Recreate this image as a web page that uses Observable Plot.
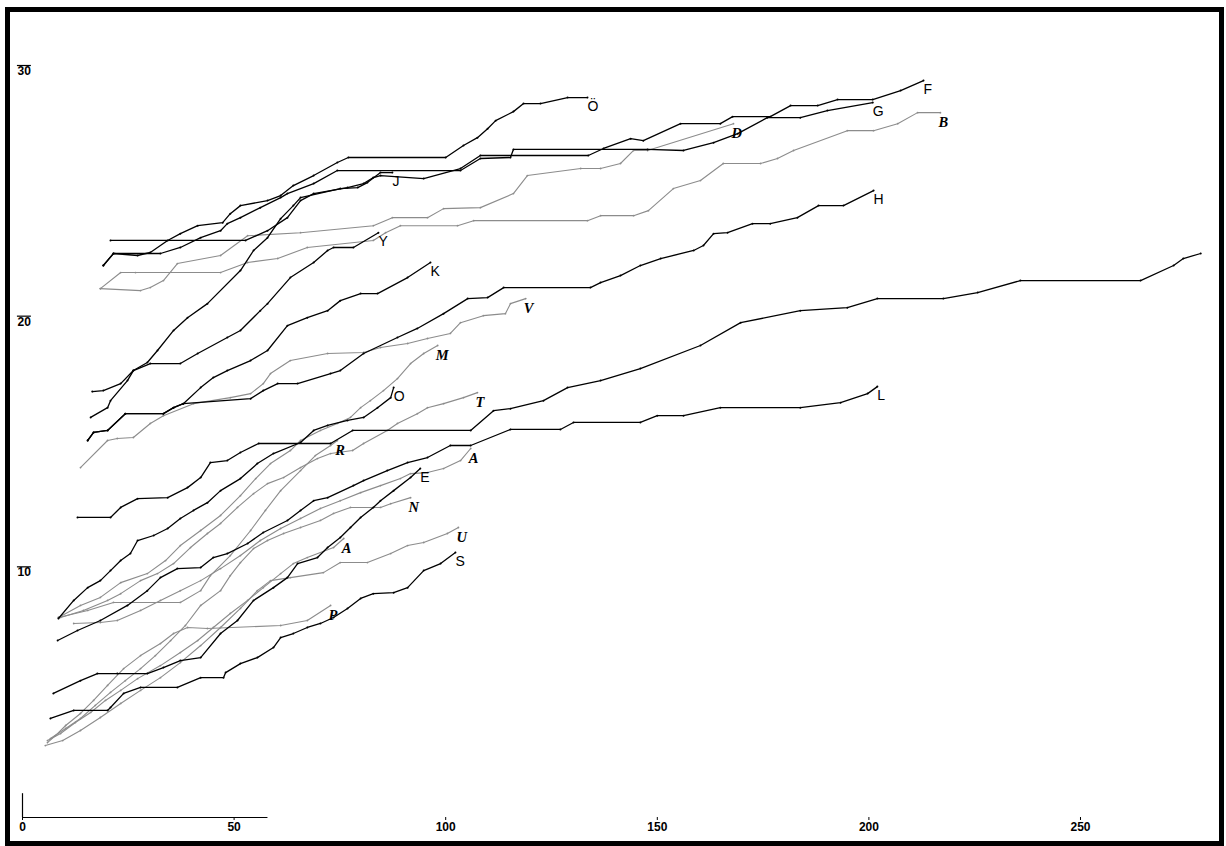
<!DOCTYPE html>
<html><head><meta charset="utf-8">
<script src="https://cdn.jsdelivr.net/npm/d3@7"></script>
<script src="https://cdn.jsdelivr.net/npm/@observablehq/plot@0.6"></script>
<style>
html,body{margin:0;padding:0;background:#fff;}
#wrap{position:relative;width:1226px;height:846px;overflow:hidden;background:#fff;}
#border{position:absolute;left:5px;top:7px;width:1219px;height:839px;box-sizing:border-box;border:5px solid #000;pointer-events:none;}
</style></head><body><div id="wrap"><div id="chart"></div><div id="border"></div></div>
<script>
// Tick values
const xTicks = [0, 50, 100, 150, 200, 250];
const yTicks = [10, 20, 30];
const xAxisStub = 58;          // length of the drawn x-axis segment (data units)
const yAxisStub = 0.95;        // length of the drawn y-axis segment (data units)
const yTickStub = [-1.2, 2.1]; // extent of the little y tick bar above each label (data units)

// Black series
const OumlX = [19.1,21.5,27.2,30.2,34.3,37.3,41.4,47.3,49.1,51.5,57.9,61.0,64.0,68.8,74.4,77.0,100.0,104.2,107.5,109.9,111.8,116.0,118.4,122.4,128.8,133.5];
const OumlY = [22.02,22.50,22.42,22.54,23.02,23.29,23.61,23.73,24.09,24.41,24.61,24.81,25.21,25.61,26.13,26.33,26.33,26.81,27.12,27.48,27.80,28.16,28.48,28.48,28.72,28.72];
const GX = [19.1,21.5,32.6,37.3,42.1,46.8,48.4,51.5,56.2,61.0,62.6,68.8,74.4,103.5,108.2,115.3,116.0,147.7,156.2,163.3,169.0,176.0,183.8,190.2,200.9];
const GY = [22.02,22.50,22.50,22.74,23.13,23.41,23.69,23.93,24.33,24.73,24.89,25.29,25.81,25.81,26.29,26.33,26.65,26.65,26.61,26.92,27.28,27.92,27.92,28.20,28.52];
const FX = [20.8,52.7,57.9,62.6,65.7,68.8,76.8,80.6,82.9,84.6,94.8,103.5,108.2,133.7,137.3,143.7,146.7,155.5,164.9,167.8,176.7,181.5,187.9,192.6,200.9,207.5,212.9];
const FY = [23.02,23.02,23.41,23.93,24.61,24.89,25.13,25.29,25.53,25.61,25.49,25.89,26.41,26.41,26.69,27.08,27.00,27.68,27.68,27.96,27.96,28.40,28.40,28.64,28.64,29.00,29.40];
const JX = [16.5,19.1,23.2,26.2,29.5,31.9,35.7,39.0,43.7,51.5,54.6,57.9,61.0,64.0,65.7,75.1,79.2,81.5,84.6,87.4];
const JY = [16.99,17.03,17.31,17.83,18.15,18.63,19.43,19.94,20.50,21.82,22.62,23.13,23.89,24.41,24.73,25.09,25.13,25.33,25.73,25.73];
const YX = [16.1,20.1,20.8,24.8,26.2,30.2,37.3,41.4,48.4,51.5,56.2,57.9,63.3,68.8,72.1,73.5,78.2,84.1];
const YY = [15.96,16.35,16.63,17.43,17.83,18.11,18.11,18.51,19.15,19.43,20.22,20.50,21.54,22.14,22.62,22.74,22.74,23.33];
const KX = [15.4,16.8,20.1,24.3,33.3,35.7,38.0,42.1,45.1,48.4,53.9,57.9,62.6,67.3,72.1,75.1,79.9,83.9,91.0,96.4];
const KY = [15.04,15.36,15.44,16.11,16.11,16.35,16.51,17.15,17.55,17.83,18.23,18.63,19.62,19.94,20.22,20.62,20.90,20.90,21.54,22.14];
const HX = [15.4,16.8,20.1,24.3,33.3,35.7,38.0,53.9,56.9,60.3,65.0,72.8,75.1,80.6,88.6,93.3,99.5,105.2,109.9,113.7,134.2,136.6,141.3,146.0,150.8,158.6,160.9,163.3,166.6,172.5,176.7,183.1,188.1,194.0,201.1];
const HY = [15.04,15.36,15.44,16.11,16.11,16.35,16.51,16.71,17.03,17.31,17.31,17.71,17.83,18.51,19.15,19.51,20.10,20.70,20.74,21.14,21.14,21.34,21.62,22.02,22.30,22.62,22.82,23.29,23.33,23.69,23.69,23.93,24.41,24.41,25.01];
const LongX = [13.0,20.8,23.2,27.2,34.3,39.0,42.1,44.4,48.4,51.5,55.8,72.8,78.0,105.9,111.3,115.3,123.1,128.8,136.6,146.0,160.2,169.7,183.8,194.9,202.0,217.6,225.7,235.8,264.2,272.0,274.3,278.4];
const LongY = [11.97,11.97,12.37,12.72,12.76,13.16,13.56,14.16,14.24,14.56,14.92,14.92,15.44,15.44,16.23,16.31,16.63,17.15,17.43,17.91,18.83,19.74,20.22,20.34,20.70,20.70,20.94,21.42,21.42,22.02,22.30,22.50];
const LX = [8.3,13.0,18.4,24.8,29.5,32.6,36.6,42.1,45.1,48.4,53.2,56.9,62.6,65.7,68.8,72.1,78.2,80.6,86.2,91.0,95.7,101.1,105.9,115.3,127.1,130.2,146.0,150.0,156.2,164.9,183.8,193.3,199.7,202.0];
const LY = [7.06,7.46,7.86,8.46,9.05,9.57,9.93,9.97,10.37,10.53,10.93,11.37,11.85,12.25,12.64,12.76,13.24,13.44,13.84,14.16,14.36,14.84,14.84,15.48,15.48,15.76,15.76,16.03,16.03,16.35,16.35,16.55,16.91,17.19];
const OX = [8.5,12.1,15.4,18.4,20.8,23.2,25.5,27.2,31.0,34.3,37.3,40.4,43.7,46.8,51.5,55.5,59.3,65.7,68.8,72.1,76.8,80.6,83.9,87.0,87.7];
const OY = [7.94,8.66,9.17,9.45,9.85,10.25,10.53,11.05,11.25,11.53,11.93,12.25,12.56,13.04,13.52,14.12,14.52,14.96,15.44,15.64,15.84,15.96,16.35,16.75,17.15];
const EX = [7.3,13.7,17.7,22.4,29.5,33.3,37.3,42.1,46.8,50.8,54.6,59.3,62.6,65.0,69.7,72.1,75.1,77.5,79.9,82.9,84.6,87.7,91.7,94.0];
const EY = [4.95,5.46,5.74,5.74,5.74,5.98,6.26,6.38,7.34,7.86,8.66,9.17,9.57,10.13,10.37,10.77,11.17,11.57,11.97,12.37,12.64,13.04,13.56,13.92];
const SX = [6.6,12.1,20.1,20.8,23.9,27.9,36.6,42.1,47.5,48.0,51.5,55.5,59.3,61.0,64.0,67.3,70.4,73.5,76.8,79.9,82.9,87.7,91.0,94.8,98.8,102.3];
const SY = [3.95,4.27,4.27,4.39,4.95,5.19,5.19,5.58,5.58,5.78,6.14,6.38,6.78,7.18,7.34,7.58,7.74,7.98,8.34,8.74,8.93,8.97,9.17,9.85,10.13,10.57];

// Gray series
const DX = [18.4,27.9,30.2,33.3,36.6,46.8,53.2,65.7,82.9,87.4,95.7,99.5,108.2,116.0,119.3,131.9,136.6,141.3,144.4,147.7,168.0];
const DY = [21.10,21.02,21.14,21.42,22.10,22.42,23.21,23.33,23.61,23.93,23.93,24.29,24.33,24.89,25.61,25.89,25.89,26.09,26.61,26.61,27.68];
const BX = [18.4,23.2,26.7,46.8,53.2,60.3,67.3,82.9,85.8,89.3,102.8,106.6,133.5,136.6,144.4,147.9,153.8,160.2,165.6,174.4,178.4,182.2,194.9,201.1,206.8,211.5,216.9];
const BY = [21.10,21.74,21.74,21.74,22.14,22.30,22.74,23.02,23.33,23.61,23.61,23.81,23.81,24.01,24.01,24.21,25.09,25.41,26.09,26.09,26.29,26.61,27.40,27.40,27.68,28.12,28.12];
const VX = [13.7,20.1,22.4,26.2,30.2,33.3,40.4,49.1,53.9,56.9,58.6,63.3,72.1,80.6,84.6,91.0,95.7,101.1,103.5,108.9,114.1,115.3,118.9];
const VY = [13.96,15.04,15.12,15.16,15.72,16.03,16.51,16.75,16.91,17.31,17.71,18.23,18.51,18.55,18.75,18.91,19.11,19.31,19.74,20.02,20.10,20.50,20.70];
const MX = [8.5,13.7,18.4,23.2,29.5,33.8,37.3,42.1,46.8,51.5,55.1,58.6,63.3,65.7,70.4,74.4,77.5,79.9,82.2,85.3,88.6,91.7,94.8,98.1];
const MY = [7.98,8.46,8.78,9.37,9.73,10.25,10.85,11.45,12.05,12.84,13.52,14.12,14.64,15.04,15.44,15.72,15.96,16.35,16.63,17.03,17.51,18.11,18.51,18.83];
const RX = [8.5,15.4,21.5,37.3,42.1,44.4,49.1,53.9,57.4,61.0,65.7,69.2,72.8,74.4];
const RY = [7.98,8.26,8.58,8.58,9.05,9.65,10.45,11.45,12.25,13.04,13.84,14.44,14.84,15.04];
const TX = [9.0,14.4,20.1,23.2,27.9,31.9,35.7,39.7,43.7,46.8,50.8,54.6,57.9,61.7,65.7,69.7,72.8,78.0,80.6,86.2,88.6,93.3,95.7,99.5,104.2,107.5];
const TY = [7.98,8.26,8.66,8.93,9.45,9.73,10.13,10.77,11.33,11.73,12.37,12.92,13.32,13.56,13.96,14.32,14.52,14.64,14.92,15.44,15.72,16.11,16.35,16.51,16.75,16.95];
const A1X = [12.1,18.4,22.4,27.9,32.6,37.3,42.1,46.8,51.5,56.2,61.0,65.7,70.4,75.1,79.9,84.6,89.3,91.7,95.7,99.5,103.5,105.9];
const A1Y = [7.74,7.78,7.86,8.26,8.66,9.05,9.45,9.93,10.45,11.05,11.53,11.93,12.33,12.64,12.96,13.24,13.52,13.72,13.76,13.92,14.24,14.72];
const PX = [5.9,7.8,10.2,13.7,16.8,20.1,23.9,27.9,32.6,35.7,39.0,43.7,61.0,67.3,72.8];
const PY = [2.99,3.27,3.67,4.15,4.67,5.27,5.94,6.46,6.94,7.34,7.58,7.54,7.66,7.86,8.46];
const A2X = [5.9,9.0,12.5,16.1,19.6,23.2,27.2,32.6,37.3,41.4,45.1,49.1,53.2,56.9,61.0,64.0,67.3,73.5,75.9];
const A2Y = [3.07,3.35,3.79,4.19,4.67,5.07,5.54,6.06,6.58,7.06,7.58,8.14,8.66,9.17,9.73,10.13,10.37,10.77,11.13];
const NX = [6.6,10.2,13.7,17.2,20.8,24.3,27.9,31.4,35.0,38.5,42.1,46.8,49.1,51.5,54.6,57.9,61.7,65.7,70.4,73.5,77.5,84.6,87.0,91.7];
const NY = [3.15,3.55,3.95,4.47,4.99,5.46,5.94,6.46,7.06,7.66,8.46,9.05,9.65,10.17,10.73,11.05,11.33,11.57,11.85,12.13,12.37,12.37,12.52,12.76];
const UX = [5.4,9.5,13.7,18.4,23.2,27.9,32.6,37.3,42.1,46.8,51.5,55.5,58.6,63.3,71.1,75.1,81.5,87.0,91.0,94.8,100.4,103.0];
const UY = [2.87,3.07,3.47,3.99,4.55,5.07,5.58,6.18,6.86,7.58,8.34,9.05,9.45,9.57,9.77,10.17,10.17,10.53,10.85,10.97,11.33,11.57];

// Series table: key, end label, x values, y values
const blackSeries = [
  ["Ouml","Ö",OumlX,OumlY],["G","G",GX,GY],["F","F",FX,FY],["J","J",JX,JY],["Y","Y",YX,YY],
  ["K","K",KX,KY],["H","H",HX,HY],["Long","",LongX,LongY],["L","L",LX,LY],["O","O",OX,OY],
  ["E","E",EX,EY],["S","S",SX,SY]
];
const graySeries = [
  ["D","D",DX,DY],["B","B",BX,BY],["V","V",VX,VY],["M","M",MX,MY],["R","R",RX,RY],["T","T",TX,TY],
  ["A1","A",A1X,A1Y],["P","P",PX,PY],["A2","A",A2X,A2Y],["N","N",NX,NY],["U","U",UX,UY]
];

function toRows(list, group) {
  return list.flatMap(([key,label,xs,ys]) => xs.map((x,i) => ({key, label, group, x, y: ys[i]})));
}
function ends(list, group) {
  return list.filter(d => d[1] !== "").map(([key,label,xs,ys]) => ({key, label, group, x: xs[xs.length-1], y: ys[ys.length-1]}));
}
const blackRows = toRows(blackSeries, "black");
const grayRows = toRows(graySeries, "gray");
const blackEnds = ends(blackSeries, "black");
const grayEnds = ends(graySeries, "gray");

const chart = Plot.plot({
  width: 1226,
  height: 846,
  marginLeft: 22,
  marginRight: 0,
  marginTop: 65,
  marginBottom: 29,
  style: {background: "#fff", fontFamily: "Liberation Sans, Arial, sans-serif", color: "#000"},
  x: {domain: [0, 284.5], axis: null},
  y: {domain: [0, 30], axis: null},
  marks: [
    Plot.ruleY([0], {x1: 0, x2: xAxisStub, stroke: "#000", strokeWidth: 1.2}),
    Plot.ruleX([0], {y1: 0, y2: yAxisStub, stroke: "#000", strokeWidth: 1.2}),
    Plot.axisX(xTicks, {anchor: "bottom", label: null, tickSize: 3, tickPadding: 2, fontSize: 12, fontWeight: "bold", stroke: "#000"}),
    Plot.ruleY(yTicks, {x1: yTickStub[0], x2: yTickStub[1], stroke: "#000", strokeWidth: 1.2}),
    Plot.text(yTicks, {x: 0, y: d => d, text: d => String(d), textAnchor: "start", dx: -5, dy: 1, lineAnchor: "top", fontSize: 12, fontWeight: "bold", fill: "#000"}),
    Plot.line(grayRows, {x: "x", y: "y", z: "key", stroke: "#8c8c8c", strokeWidth: 1.1, curve: "linear"}),
    Plot.dot(grayRows, {x: "x", y: "y", r: 0.9, fill: "#8c8c8c"}),
    Plot.line(blackRows, {x: "x", y: "y", z: "key", stroke: "#000", strokeWidth: 1.3, curve: "linear"}),
    Plot.dot(blackRows, {x: "x", y: "y", r: 1, fill: "#000"}),
    Plot.text(blackEnds, {x: "x", y: "y", text: "label", textAnchor: "start", dx: 0, dy: 9, fontSize: 14, fill: "#000", fontFamily: "Liberation Sans, Arial, sans-serif"}),
    Plot.text(grayEnds, {x: "x", y: "y", text: "label", textAnchor: "start", dx: -2, dy: 10, fontSize: 14.5, fill: "#000", fontStyle: "italic", fontWeight: "bold", fontFamily: "Liberation Serif, Times New Roman, serif"})
  ]
});
document.getElementById("chart").appendChild(chart);
</script></body></html>
